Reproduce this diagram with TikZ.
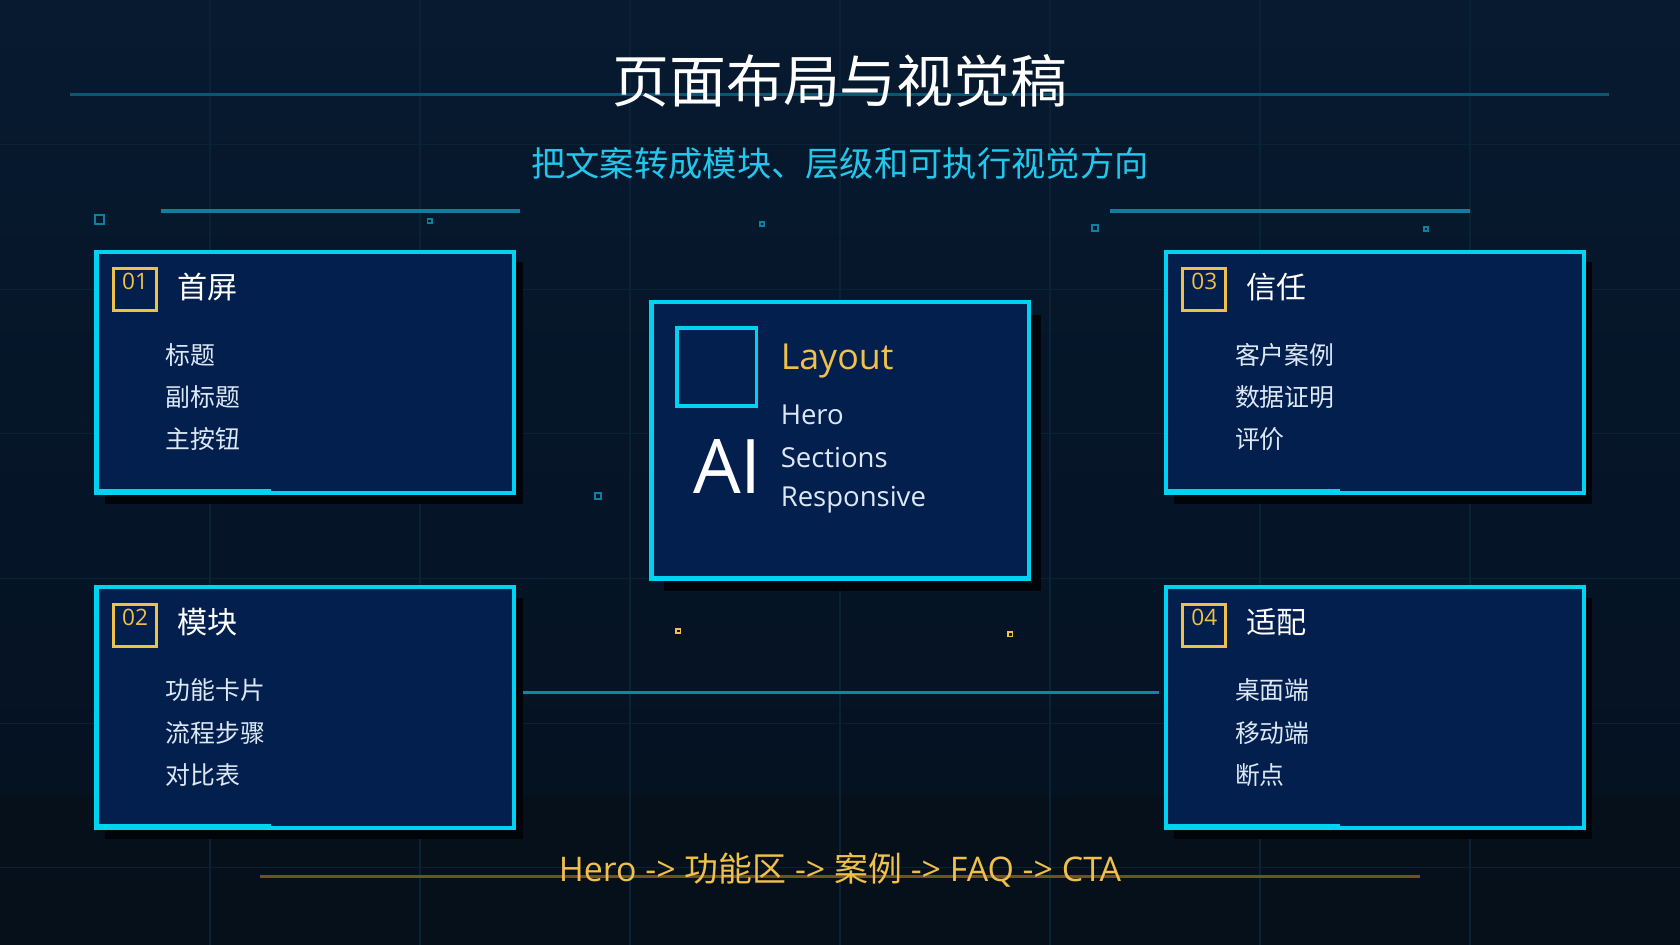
\documentclass[tikz,border=0pt]{standalone}
\usepackage{fontspec}
\setmainfont{Noto Sans CJK SC}
\newfontfamily\latin{Open Sans}
\definecolor{bgA}{HTML}{071A30}
\definecolor{bgB}{HTML}{04101F}
\definecolor{bot}{HTML}{06101B}
\definecolor{gridc}{HTML}{0A2236}
\definecolor{cardf}{HTML}{031F4E}
\definecolor{cyanb}{HTML}{00D2F2}
\definecolor{lineb}{HTML}{0E7FA0}
\definecolor{gold}{HTML}{F0C048}
\definecolor{itemc}{HTML}{DCE8F5}
\definecolor{subc}{HTML}{22C8EC}
\definecolor{goldl}{HTML}{6B561A}
\begin{document}
\begin{tikzpicture}[x=0.01cm,y=-0.01cm,
  card/.style={draw=cyanb,line width=1.1pt,fill=cardf},
  badge/.style={draw=gold,line width=0.8pt},
  ctitle/.style={anchor=west,inner sep=0pt,text=white,font=\fontsize{8}{8}\selectfont},
  citem/.style={anchor=west,inner sep=0pt,text=itemc,font=\fontsize{6.6}{6.6}\selectfont},
  bnum/.style={anchor=north,text=gold,font=\latin\fontsize{6}{6}\selectfont,inner sep=1pt},
  deco/.style={line width=0.85pt,draw=lineb},
  sq/.style={draw=lineb,line width=0.5pt}]
\useasboundingbox (0,0) rectangle (1568,882);
\shade[top color=bgA,bottom color=bgB] (0,0) rectangle (1568,882);
\fill[bot] (0,742) rectangle (1568,882);
\foreach \x in {196,392,588,784,980,1176,1372} \draw[gridc,line width=0.3pt] (\x,0) -- (\x,882);
\foreach \y in {135,270,405,540,675,810} \draw[gridc,line width=0.3pt] (0,\y) -- (1568,\y);
% title
\draw[line width=0.8pt,draw=lineb!60!bgA] (65,88) -- (1502,88);
\node[text=white,font=\fontsize{15.1}{15.1}\selectfont] (title) at (784,75) {页面布局与视觉稿};
\node[text=subc,font=\fontsize{9.1}{9.1}\selectfont] (sub) at (784,153) {把文案转成模块、层级和可执行视觉方向};
\draw[deco] (150,197) -- (485,197);
\draw[deco] (1036,197) -- (1372,197);
% small squares
\foreach \x/\y/\s in {93/205/4,401/206/2,711/209/2,1022/213/3,1331/214/2,558/463/3}
  \draw[sq] (\x-\s,\y-\s) rectangle (\x+\s,\y+\s);
\foreach \x/\y in {633/589,943/592} \draw[gold,line width=0.4pt] (\x-2,\y-2) rectangle (\x+2,\y+2);
\foreach \x/\y in {325/588,1255/597,1098/339,1408/342,1176/467} \draw[gridc!80!lineb,line width=0.3pt] (\x-3,\y-3) rectangle (\x+3,\y+3);
% cards
\foreach \n/\x/\y/\t/\a/\b/\c in {01/90/235/首屏/标题/副标题/主按钮,03/1088/235/信任/客户案例/数据证明/评价,02/90/548/模块/功能卡片/流程步骤/对比表,04/1088/548/适配/桌面端/移动端/断点}{
  \fill[black!70!bgB] (\x+8,\y+10) rectangle (\x+398,\y+235);
  \draw[card] (\x,\y) rectangle (\x+390,\y+225);
  \draw[cyanb,line width=1.1pt] (\x,\y+223) -- (\x+163,\y+223);
  \draw[badge] (\x+16,\y+16) rectangle (\x+56,\y+55);
  \node[bnum] (n\n) at (\x+36,\y+16) {\n};
  \node[ctitle] (t\n) at (\x+75,\y+33) {\t};
  \node[citem] (a\n) at (\x+64,\y+96) {\a};
  \node[citem] (b\n) at (\x+64,\y+136) {\b};
  \node[citem] (c\n) at (\x+64,\y+175) {\c};
}
% center card
\fill[black!70!bgB] (620,294) rectangle (972,552);
\draw[card] (608,282) rectangle (960,540);
\draw[cyanb,line width=0.9pt] (632,306) rectangle (706,379);
\node[text=white,font=\latin\fontsize{20}{20}\selectfont] (ai) at (679,435) {AI};
\node[anchor=west,text=gold,font=\latin\fontsize{9.5}{9.5}\selectfont,inner sep=0pt] (lay) at (728,337) {Layout};
\node[anchor=west,text=itemc,font=\latin\fontsize{7.3}{7.3}\selectfont,inner sep=0pt] (h1) at (728,387) {Hero};
\node[anchor=west,text=itemc,font=\latin\fontsize{7.3}{7.3}\selectfont,inner sep=0pt] (h2) at (728,427) {Sections};
\node[anchor=west,text=itemc,font=\latin\fontsize{7.3}{7.3}\selectfont,inner sep=0pt] (h3) at (728,466) {Responsive};
\draw[deco,draw=lineb!90!cyanb] (488,646) -- (1082,646);
% bottom
\draw[goldl,line width=0.8pt] (243,818) -- (1325,818);
\node[text=gold,font=\fontsize{9}{9}\selectfont] (flow) at (784,812) {{\latin Hero -> }功能区{\latin\ -> }案例{\latin\ -> FAQ -> CTA}};
\end{tikzpicture}
\end{document}
